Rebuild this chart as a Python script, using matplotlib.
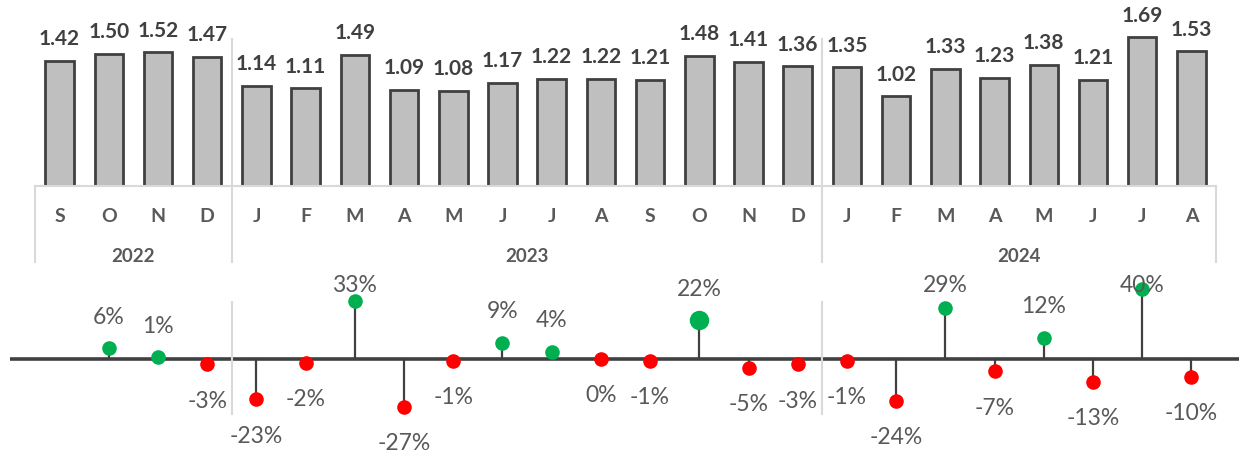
import numpy as np
import matplotlib.pyplot as plt
from matplotlib.lines import Line2D

plt.rcParams['font.family'] = ['Lato', 'DejaVu Sans']

# monthly values, Sep 2022 .. Aug 2024
months = ['S', 'O', 'N', 'D',
          'J', 'F', 'M', 'A', 'M', 'J', 'J', 'A', 'S', 'O', 'N', 'D',
          'J', 'F', 'M', 'A', 'M', 'J', 'J', 'A']
years = ['2022', '2023', '2024']
year_counts = [4, 12, 8]
values = [1.42, 1.50, 1.52, 1.47,
          1.14, 1.11, 1.49, 1.09, 1.08, 1.17, 1.22, 1.22, 1.21, 1.48, 1.41, 1.36,
          1.35, 1.02, 1.33, 1.23, 1.38, 1.21, 1.69, 1.53]
# month-over-month change (%), Oct 2022 .. Aug 2024
change_pct = [6, 1, -3,
              -23, -2, 33, -27, -1, 9, 4, 0, -1, 22, -5, -3,
              -1, -24, 29, -7, 12, -13, 40, -10]

W, H = 1239, 452
fig = plt.figure(figsize=(W / 100, H / 100), dpi=100)

def fx(px):
    return px / W

def fy(py):
    return 1 - py / H

x0, x1 = 35, 1216          # category axis extent (px)
n = len(months)
step = (x1 - x0) / n

# ---- top: bar chart ----
base_y = 187
ax = fig.add_axes([fx(x0), fy(base_y), fx(x1 - x0), base_y / H])
ax.set_xlim(-0.5, n - 0.5)
ax.set_ylim(0, base_y / 88.0)
ax.axis('off')

x = np.arange(n)
ax.bar(x, values, width=0.58, color='#BFBFBF', edgecolor='#404040', linewidth=2, zorder=2)
for xi, v in zip(x, values):
    ax.annotate(f'{v:.2f}', (xi, v), xytext=(0, 12), textcoords='offset points',
                ha='center', va='baseline', fontsize=15, fontweight='bold', color='#404040')

# category axis lines
grid_c = '#D9D9D9'
fig.add_artist(Line2D([fx(x0), fx(x1)], [fy(base_y), fy(base_y)], color=grid_c, lw=1.5))
fig.add_artist(Line2D([fx(x0), fx(x0)], [fy(base_y), fy(263)], color=grid_c, lw=1.5))
fig.add_artist(Line2D([fx(x1), fx(x1)], [fy(base_y), fy(263)], color=grid_c, lw=1.5))
edges = np.cumsum(year_counts)[:-1]
for e in edges:
    px = x0 + e * step
    fig.add_artist(Line2D([fx(px), fx(px)], [fy(40), fy(263)], color=grid_c, lw=1.5))
    fig.add_artist(Line2D([fx(px), fx(px)], [fy(303), fy(415)], color=grid_c, lw=1.5))

for i, m in enumerate(months):
    fig.text(fx(x0 + (i + 0.5) * step), fy(217), m, ha='center', va='center',
             fontsize=14, fontweight='bold', color='#595959')
start = 0
for yr, cnt in zip(years, year_counts):
    fig.text(fx(x0 + (start + cnt / 2) * step), fy(257), yr, ha='center', va='center',
             fontsize=13.5, fontweight='bold', color='#595959')
    start += cnt

# ---- bottom: lollipop of monthly change ----
zero_y = 360
px_per_pct = 1.76
top_px, bot_px = 265, 452
ax2 = fig.add_axes([fx(x0), fy(bot_px), fx(x1 - x0), (bot_px - top_px) / H])
ax2.set_xlim(-0.5, n - 0.5)
ax2.set_ylim(-(bot_px - zero_y) / px_per_pct, (zero_y - top_px) / px_per_pct)
ax2.axis('off')

ax2.plot([(10 - x0) / (x1 - x0), (W - x0) / (x1 - x0)], [0, 0],
         transform=ax2.get_yaxis_transform(), color='#404040', lw=2.6,
         clip_on=False, zorder=3, solid_capstyle='butt')

cx = np.arange(1, n)
big = 12  # Oct 2023 point drawn larger
label_cap = 42.6
for i, (xi, p) in enumerate(zip(cx, change_pct)):
    col = '#00B050' if p > 0 else '#FF0000'
    ax2.plot([xi, xi], [0, p], color='#404040', lw=1.6, zorder=2)
    ax2.plot(xi, p, 'o', color=col, markersize=14 if i == big else 10.5,
             markeredgewidth=0, zorder=4)
    ly = min(p + 18.3, label_cap) if p > 0 else p - 20.3
    ax2.text(xi, ly, f'{p}%', ha='center', va='center', fontsize=16.5,
             color='#595959', zorder=5)

fig.savefig('out.png', dpi=100, facecolor='white')
